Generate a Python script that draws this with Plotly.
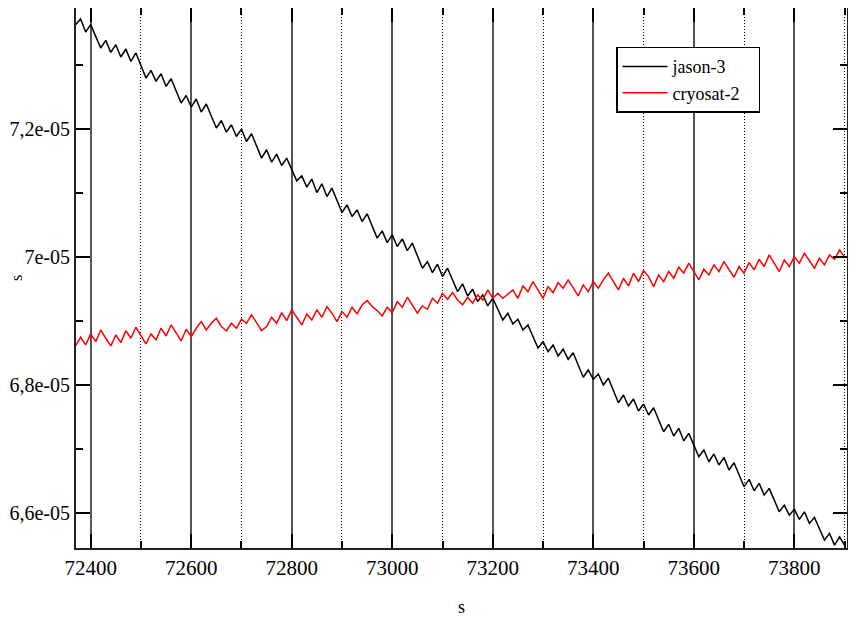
import plotly.graph_objects as go

# Sampling times (s), one sample every 10 s
TIME_S = list(range(72370, 73910, 10))

# Values, in microseconds
JASON3_US = [
    73.630, 73.719, 73.516, 73.630, 73.447, 73.266, 73.384, 73.197, 73.317, 73.125,
    73.250, 73.056, 73.188, 72.989, 72.797, 72.916, 72.744, 72.864, 72.666, 72.786,
    72.598, 72.406, 72.525, 72.344, 72.469, 72.266, 72.391, 72.208, 72.016, 72.134,
    71.953, 72.067, 71.884, 72.000, 71.806, 71.927, 71.739, 71.547, 71.677, 71.484,
    71.609, 71.431, 71.547, 71.364, 71.192, 71.270, 71.094, 71.219, 71.009, 71.145,
    70.947, 71.078, 70.884, 70.697, 70.817, 70.634, 70.739, 70.556, 70.677, 70.478,
    70.297, 70.411, 70.228, 70.348, 70.166, 70.286, 70.103, 70.219, 70.020, 69.828,
    69.931, 69.759, 69.891, 69.697, 69.828, 69.645, 69.463, 69.583, 69.395, 69.500,
    69.306, 69.411, 69.239, 69.359, 69.177, 69.020, 69.125, 68.958, 69.031, 68.864,
    68.942, 68.755, 68.583, 68.681, 68.525, 68.630, 68.458, 68.563, 68.406, 68.509,
    68.317, 68.125, 68.239, 68.094, 68.177, 68.005, 68.109, 67.927, 67.728, 67.848,
    67.677, 67.786, 67.598, 67.708, 67.536, 67.650, 67.458, 67.275, 67.391, 67.208,
    67.328, 67.134, 67.250, 67.067, 66.884, 66.989, 66.806, 66.927, 66.755, 66.875,
    66.677, 66.791, 66.598, 66.416, 66.531, 66.353, 66.469, 66.286, 66.391, 66.208,
    66.025, 66.130, 65.973, 66.063, 65.906, 66.025, 65.844, 65.938, 65.766, 65.583,
    65.688, 65.505, 65.634, 65.505,
]

CRYOSAT2_US = [
    68.614, 68.750, 68.630, 68.802, 68.682, 68.864, 68.734, 68.614, 68.786, 68.666,
    68.854, 68.734, 68.906, 68.770, 68.645, 68.802, 68.708, 68.890, 68.770, 68.942,
    68.812, 68.692, 68.875, 68.760, 68.890, 68.994, 68.864, 68.968, 69.046, 68.916,
    68.848, 68.968, 68.890, 69.031, 68.968, 69.098, 68.979, 68.854, 68.916, 69.062,
    68.968, 69.135, 69.010, 69.177, 69.062, 68.942, 69.114, 69.020, 69.177, 69.062,
    69.229, 69.125, 68.994, 69.151, 69.062, 69.218, 69.114, 69.255, 69.322, 69.229,
    69.166, 69.083, 69.218, 69.135, 69.307, 69.218, 69.375, 69.255, 69.125, 69.239,
    69.187, 69.359, 69.281, 69.437, 69.343, 69.447, 69.333, 69.255, 69.375, 69.281,
    69.411, 69.333, 69.489, 69.359, 69.437, 69.359, 69.427, 69.489, 69.359, 69.552,
    69.463, 69.619, 69.489, 69.359, 69.541, 69.447, 69.604, 69.515, 69.645, 69.515,
    69.395, 69.567, 69.463, 69.619, 69.515, 69.645, 69.750, 69.619, 69.489, 69.671,
    69.552, 69.750, 69.619, 69.791, 69.697, 69.541, 69.723, 69.619, 69.776, 69.671,
    69.843, 69.750, 69.906, 69.776, 69.645, 69.812, 69.723, 69.880, 69.776, 69.932,
    69.802, 69.687, 69.854, 69.750, 69.916, 69.802, 69.968, 69.854, 70.036, 69.906,
    69.776, 69.958, 69.854, 70.010, 69.906, 70.062, 69.947, 69.828, 69.984, 69.880,
    70.036, 69.968, 70.114, 70.000,
]

SERIES_NAMES = ["jason-3", "cryosat-2"]

Y_TICK_VALUES = [6.6e-05, 6.8e-05, 7.0e-05, 7.2e-05]
Y_TICK_LABELS = ["6,6e-05", "6,8e-05", "7e-05", "7,2e-05"]

X_RANGE = [72370.8, 73904.8]
Y_RANGE = [6.546e-05, 7.389e-05]

FONT = "Liberation Serif, Times New Roman, serif"
PAD = "\u00a0\u00a0\u00a0"  # widens the legend box a little

jason = [v * 1e-6 for v in JASON3_US]
cryo = [v * 1e-6 for v in CRYOSAT2_US]

fig = go.Figure()
fig.add_trace(go.Scatter(x=TIME_S, y=jason, mode="lines", name=SERIES_NAMES[0],
                         line=dict(color="#000000", width=1.5)))
fig.add_trace(go.Scatter(x=TIME_S, y=cryo, mode="lines", name=SERIES_NAMES[1] + PAD,
                         line=dict(color="#ff0000", width=1.5)))

# The page adds an 8 px body margin, so the figure is sized to fit the window.
fig.update_layout(
    width=848, height=612,
    margin=dict(l=68, r=9, t=0, b=72, autoexpand=False),
    paper_bgcolor="white", plot_bgcolor="white",
    font=dict(family=FONT, size=20, color="black"),
    showlegend=True,
    legend=dict(
        x=0.7004, y=0.9283, xanchor="left", yanchor="top",
        bgcolor="white", bordercolor="black", borderwidth=1.5,
        font=dict(family=FONT, size=18, color="black"),
        itemwidth=45,
    ),
    xaxis=dict(
        range=X_RANGE, autorange=False,
        tickmode="linear", tick0=72400, dtick=200, tickformat="d",
        ticks="inside", ticklen=14, tickwidth=1.5, tickcolor="black",
        showline=True, linecolor="#222", linewidth=2, mirror="ticks",
        showgrid=True, gridcolor="#555", gridwidth=1.6,
        zeroline=False,
        tickfont=dict(family=FONT, size=21, color="black"),
        minor=dict(tickmode="linear", tick0=72400, dtick=100, showgrid=True,
                   gridcolor="black", gridwidth=1, griddash="1px,2px",
                   ticks="inside", ticklen=7, tickcolor="black"),
        title=dict(text="s", font=dict(family=FONT, size=18), standoff=21),
        automargin=False,
    ),
    yaxis=dict(
        range=Y_RANGE, autorange=False,
        tickmode="array", tickvals=Y_TICK_VALUES, ticktext=Y_TICK_LABELS,
        ticks="inside", ticklen=14, tickwidth=1.5, tickcolor="black",
        showline=True, linecolor="#222", linewidth=2, mirror="ticks",
        showgrid=False, zeroline=False,
        tickfont=dict(family=FONT, size=20, color="black"),
        minor=dict(tickmode="linear", tick0=6.5e-05, dtick=1e-06,
                   ticks="inside", ticklen=7, tickcolor="black", showgrid=False),
        title=dict(text="s", font=dict(family=FONT, size=16), standoff=4),
        automargin=False,
    ),
)

fig.write_html("out.html")
